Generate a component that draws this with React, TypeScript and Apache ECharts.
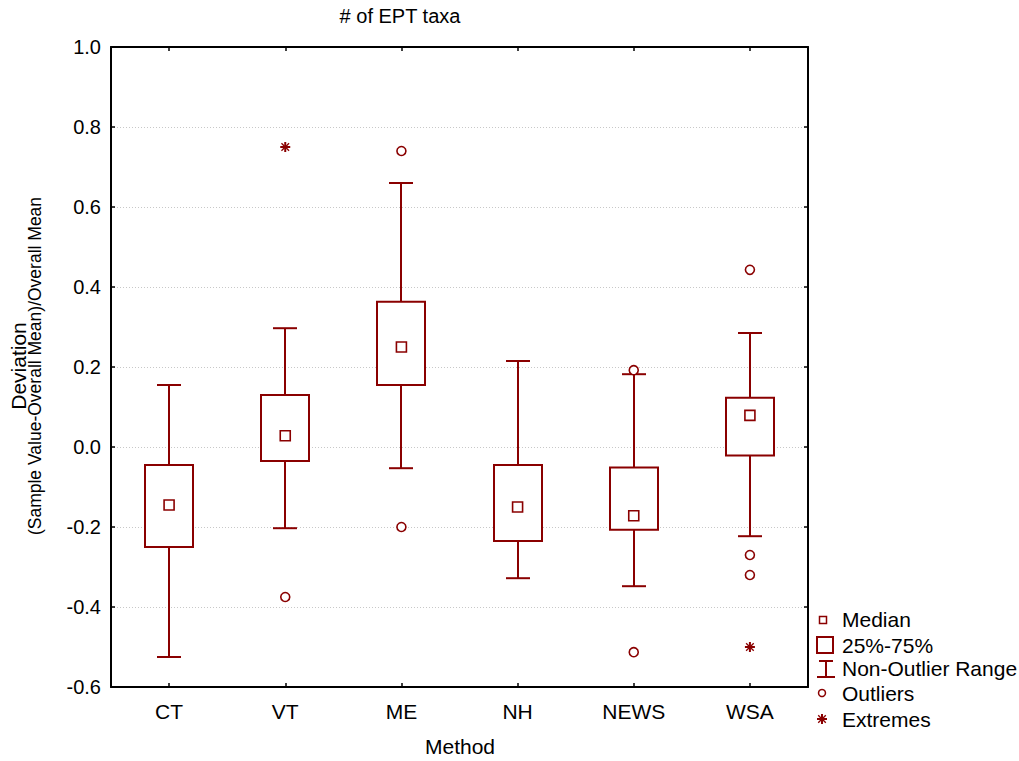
import React, { useEffect, useRef } from "react";
import * as echarts from "echarts";

const categories = ["CT", "VT", "ME", "NH", "NEWS", "WSA"];
// non-outlier range and box: [low whisker, Q1, Q3, high whisker]
const whiskerLow = [-0.525, -0.203, -0.053, -0.328, -0.348, -0.223];
const quartile1 = [-0.25, -0.035, 0.155, -0.235, -0.207, -0.021];
const quartile3 = [-0.045, 0.13, 0.363, -0.045, -0.051, 0.123];
const whiskerHigh = [0.155, 0.297, 0.66, 0.215, 0.182, 0.285];
const medians = [-0.145, 0.028, 0.25, -0.15, -0.172, 0.079];
// outliers: [category index, value]
const outliers: [number, number][] = [
  [1, -0.375],
  [2, 0.74],
  [2, -0.2],
  [4, 0.192],
  [4, -0.513],
  [5, 0.443],
  [5, -0.27],
  [5, -0.32],
];
const extremes: [number, number][] = [
  [1, 0.75],
  [5, -0.5],
];
const yTicks = { min: -0.6, max: 1.0, interval: 0.2 };

const RED = "#8a0000";
const FONT = 'Arial, "Liberation Sans", sans-serif';

export default function App() {
  const ref = useRef<HTMLDivElement>(null);
  useEffect(() => {
    if (!ref.current) return;
    const chart = echarts.init(ref.current, undefined, { renderer: "svg" });
    const boxData = categories.map((_, i) => [
      i,
      whiskerLow[i],
      quartile1[i],
      quartile3[i],
      whiskerHigh[i],
    ]);
    const medianData = medians.map((m, i) => [i, m]);

    const axisLine = { show: true, onZero: false, lineStyle: { color: "#000", width: 2 } };
    const axisTick = { show: true, inside: true, length: 4, lineStyle: { color: "#000", width: 1.5 } };

    const option: any = {
      animation: false,
      backgroundColor: "#fff",
      grid: { left: 111, right: 211, top: 47, bottom: 74 },
      xAxis: [
        {
          type: "category",
          data: categories,
          boundaryGap: true,
          axisLine,
          axisTick: { ...axisTick, alignWithLabel: true },
          axisLabel: { color: "#000", fontSize: 21, fontFamily: FONT, margin: 14 },
          splitLine: { show: false },
        },
        {
          type: "category",
          data: categories,
          position: "top",
          boundaryGap: true,
          axisLine,
          axisTick: { ...axisTick, alignWithLabel: true },
          axisLabel: { show: false },
          splitLine: { show: false },
        },
      ],
      yAxis: [
        {
          type: "value",
          position: "left",
          min: yTicks.min,
          max: yTicks.max,
          interval: yTicks.interval,
          axisLine,
          axisTick,
          axisLabel: {
            color: "#000",
            fontSize: 20,
            fontFamily: FONT,
            margin: 10,
            formatter: (v: number) => v.toFixed(1),
          },
          splitLine: { show: true, lineStyle: { color: "#c8c8c8", type: [1, 2], width: 1 } },
        },
        {
          type: "value",
          position: "right",
          min: yTicks.min,
          max: yTicks.max,
          interval: yTicks.interval,
          axisLine,
          axisTick,
          axisLabel: { show: false },
          splitLine: { show: false },
        },
      ],
      series: [
        {
          type: "custom",
          xAxisIndex: 0,
          yAxisIndex: 0,
          data: boxData,
          z: 3,
          renderItem: (params: any, api: any) => {
            const x = api.value(0);
            const pLo = api.coord([x, api.value(1)]);
            const pQ1 = api.coord([x, api.value(2)]);
            const pQ3 = api.coord([x, api.value(3)]);
            const pHi = api.coord([x, api.value(4)]);
            const cx = Math.round(pLo[0]);
            const bw = 24;
            const cw = 12;
            const ls = { stroke: RED, lineWidth: 2 };
            return {
              type: "group",
              children: [
                { type: "line", shape: { x1: cx, y1: pHi[1], x2: cx, y2: pQ3[1] }, style: ls },
                { type: "line", shape: { x1: cx, y1: pQ1[1], x2: cx, y2: pLo[1] }, style: ls },
                { type: "line", shape: { x1: cx - cw, y1: pHi[1], x2: cx + cw, y2: pHi[1] }, style: ls },
                { type: "line", shape: { x1: cx - cw, y1: pLo[1], x2: cx + cw, y2: pLo[1] }, style: ls },
                {
                  type: "rect",
                  shape: { x: cx - bw, y: pQ3[1], width: bw * 2, height: pQ1[1] - pQ3[1] },
                  style: { fill: "#fff", stroke: RED, lineWidth: 2 },
                },
              ],
            };
          },
        },
        {
          type: "scatter",
          data: medianData,
          symbol: "rect",
          symbolSize: 10,
          z: 5,
          itemStyle: { color: "#fff", borderColor: RED, borderWidth: 1.6, opacity: 1 },
        },
        {
          type: "scatter",
          data: outliers,
          symbol: "circle",
          symbolSize: 9,
          z: 5,
          itemStyle: { color: "#fff", borderColor: RED, borderWidth: 1.6, opacity: 1 },
        },
        {
          type: "custom",
          data: extremes,
          z: 5,
          renderItem: (params: any, api: any) => {
            const p = api.coord([api.value(0), api.value(1)]);
            const r = 5;
            const d = 3.8;
            const ls = { stroke: RED, lineWidth: 2 };
            return {
              type: "group",
              children: [
                { type: "line", shape: { x1: p[0], y1: p[1] - r, x2: p[0], y2: p[1] + r }, style: ls },
                { type: "line", shape: { x1: p[0] - r, y1: p[1], x2: p[0] + r, y2: p[1] }, style: ls },
                { type: "line", shape: { x1: p[0] - d, y1: p[1] - d, x2: p[0] + d, y2: p[1] + d }, style: { stroke: RED, lineWidth: 1.3 } },
                { type: "line", shape: { x1: p[0] - d, y1: p[1] + d, x2: p[0] + d, y2: p[1] - d }, style: { stroke: RED, lineWidth: 1.3 } },
              ],
            };
          },
        },
      ],
      graphic: [
        {
          type: "text",
          x: 400,
          y: 16,
          style: { text: "# of EPT taxa", fill: "#000", font: `20px ${FONT}`, align: "center", verticalAlign: "middle" },
        },
        {
          type: "text",
          x: 18,
          y: 366,
          rotation: Math.PI / 2,
          style: { text: "Deviation", fill: "#000", font: `21px ${FONT}`, align: "center", verticalAlign: "middle" },
        },
        {
          type: "text",
          x: 35,
          y: 366,
          rotation: Math.PI / 2,
          style: {
            text: "(Sample Value-Overall Mean)/Overall Mean",
            fill: "#000",
            font: `17.5px ${FONT}`,
            align: "center",
            verticalAlign: "middle",
          },
        },
        {
          type: "text",
          x: 460,
          y: 746,
          style: { text: "Method", fill: "#000", font: `21px ${FONT}`, align: "center", verticalAlign: "middle" },
        },
        // legend
        { type: "rect", shape: { x: 819.5, y: 616.5, width: 7, height: 7 }, style: { fill: "#fff", stroke: RED, lineWidth: 1.5 } },
        { type: "text", x: 842, y: 619, style: { text: "Median", fill: "#000", font: `21px ${FONT}`, verticalAlign: "middle" } },
        { type: "rect", shape: { x: 817, y: 637, width: 16, height: 16 }, style: { fill: "#fff", stroke: RED, lineWidth: 2 } },
        { type: "text", x: 842, y: 645, style: { text: "25%-75%", fill: "#000", font: `21px ${FONT}`, verticalAlign: "middle" } },
        { type: "line", shape: { x1: 819, y1: 661, x2: 833, y2: 661 }, style: { stroke: RED, lineWidth: 2 } },
        { type: "line", shape: { x1: 826, y1: 661, x2: 826, y2: 677 }, style: { stroke: RED, lineWidth: 2 } },
        { type: "line", shape: { x1: 817, y1: 677, x2: 835, y2: 677 }, style: { stroke: RED, lineWidth: 2 } },
        { type: "text", x: 842, y: 668, style: { text: "Non-Outlier Range", fill: "#000", font: `21px ${FONT}`, verticalAlign: "middle" } },
        { type: "circle", shape: { cx: 822, cy: 693, r: 3.5 }, style: { fill: "#fff", stroke: RED, lineWidth: 1.5 } },
        { type: "text", x: 842, y: 693, style: { text: "Outliers", fill: "#000", font: `21px ${FONT}`, verticalAlign: "middle" } },
        { type: "line", shape: { x1: 822, y1: 714, x2: 822, y2: 724 }, style: { stroke: RED, lineWidth: 2 } },
        { type: "line", shape: { x1: 817, y1: 719, x2: 827, y2: 719 }, style: { stroke: RED, lineWidth: 2 } },
        { type: "line", shape: { x1: 818.2, y1: 715.2, x2: 825.8, y2: 722.8 }, style: { stroke: RED, lineWidth: 1.3 } },
        { type: "line", shape: { x1: 818.2, y1: 722.8, x2: 825.8, y2: 715.2 }, style: { stroke: RED, lineWidth: 1.3 } },
        { type: "text", x: 842, y: 719, style: { text: "Extremes", fill: "#000", font: `21px ${FONT}`, verticalAlign: "middle" } },
      ],
    };
    chart.setOption(option);
    return () => chart.dispose();
  }, []);
  return (
    <div
      ref={ref}
      style={{ position: "fixed", left: 0, top: 0, width: 1019, height: 761, background: "#fff" }}
    />
  );
}
